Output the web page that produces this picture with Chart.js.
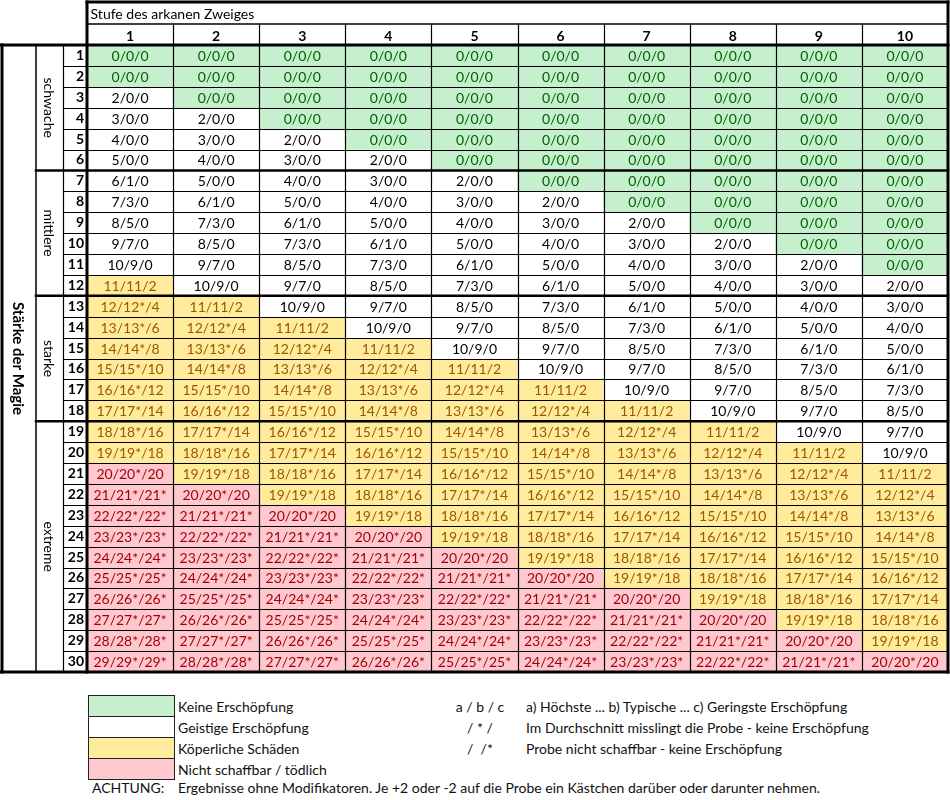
<!doctype html>
<html lang="de">
<head>
<meta charset="UTF-8">
<title>Stärke der Magie</title>
<script src="https://cdn.jsdelivr.net/npm/chart.js"></script>
<style>
  body { margin: 0; background: #fff; font-family: Lato, "Open Sans", sans-serif; }
  #wrap { position: relative; width: 950px; height: 800px; }
  #chart { position: absolute; left: 0; top: 0; }
  .box { position: absolute; left: 88px; width: 87px; height: 22px; box-sizing: border-box; border: 1px solid #222; }
  .txt { position: absolute; font-size: 14px; line-height: 21px; color: #111; white-space: pre; }
</style>
</head>
<body>
<div id="wrap">
  <canvas id="chart" width="950" height="676"></canvas>
  <div id="legend"></div>
</div>
<script>
const colLabels = ['1', '2', '3', '4', '5', '6', '7', '8', '9', '10'];
const rowLabels = ['1', '2', '3', '4', '5', '6', '7', '8', '9', '10',
                   '11', '12', '13', '14', '15', '16', '17', '18', '19', '20',
                   '21', '22', '23', '24', '25', '26', '27', '28', '29', '30'];
const groupLabels = ['schwache', 'mittlere', 'starke', 'extreme'];
const groupLastRow = [6, 12, 18, 30];

// one string per row, 10 cells each
const cellRows = [
  '0/0/0 0/0/0 0/0/0 0/0/0 0/0/0 0/0/0 0/0/0 0/0/0 0/0/0 0/0/0',
  '0/0/0 0/0/0 0/0/0 0/0/0 0/0/0 0/0/0 0/0/0 0/0/0 0/0/0 0/0/0',
  '2/0/0 0/0/0 0/0/0 0/0/0 0/0/0 0/0/0 0/0/0 0/0/0 0/0/0 0/0/0',
  '3/0/0 2/0/0 0/0/0 0/0/0 0/0/0 0/0/0 0/0/0 0/0/0 0/0/0 0/0/0',
  '4/0/0 3/0/0 2/0/0 0/0/0 0/0/0 0/0/0 0/0/0 0/0/0 0/0/0 0/0/0',
  '5/0/0 4/0/0 3/0/0 2/0/0 0/0/0 0/0/0 0/0/0 0/0/0 0/0/0 0/0/0',
  '6/1/0 5/0/0 4/0/0 3/0/0 2/0/0 0/0/0 0/0/0 0/0/0 0/0/0 0/0/0',
  '7/3/0 6/1/0 5/0/0 4/0/0 3/0/0 2/0/0 0/0/0 0/0/0 0/0/0 0/0/0',
  '8/5/0 7/3/0 6/1/0 5/0/0 4/0/0 3/0/0 2/0/0 0/0/0 0/0/0 0/0/0',
  '9/7/0 8/5/0 7/3/0 6/1/0 5/0/0 4/0/0 3/0/0 2/0/0 0/0/0 0/0/0',
  '10/9/0 9/7/0 8/5/0 7/3/0 6/1/0 5/0/0 4/0/0 3/0/0 2/0/0 0/0/0',
  '11/11/2 10/9/0 9/7/0 8/5/0 7/3/0 6/1/0 5/0/0 4/0/0 3/0/0 2/0/0',
  '12/12*/4 11/11/2 10/9/0 9/7/0 8/5/0 7/3/0 6/1/0 5/0/0 4/0/0 3/0/0',
  '13/13*/6 12/12*/4 11/11/2 10/9/0 9/7/0 8/5/0 7/3/0 6/1/0 5/0/0 4/0/0',
  '14/14*/8 13/13*/6 12/12*/4 11/11/2 10/9/0 9/7/0 8/5/0 7/3/0 6/1/0 5/0/0',
  '15/15*/10 14/14*/8 13/13*/6 12/12*/4 11/11/2 10/9/0 9/7/0 8/5/0 7/3/0 6/1/0',
  '16/16*/12 15/15*/10 14/14*/8 13/13*/6 12/12*/4 11/11/2 10/9/0 9/7/0 8/5/0 7/3/0',
  '17/17*/14 16/16*/12 15/15*/10 14/14*/8 13/13*/6 12/12*/4 11/11/2 10/9/0 9/7/0 8/5/0',
  '18/18*/16 17/17*/14 16/16*/12 15/15*/10 14/14*/8 13/13*/6 12/12*/4 11/11/2 10/9/0 9/7/0',
  '19/19*/18 18/18*/16 17/17*/14 16/16*/12 15/15*/10 14/14*/8 13/13*/6 12/12*/4 11/11/2 10/9/0',
  '20/20*/20 19/19*/18 18/18*/16 17/17*/14 16/16*/12 15/15*/10 14/14*/8 13/13*/6 12/12*/4 11/11/2',
  '21/21*/21* 20/20*/20 19/19*/18 18/18*/16 17/17*/14 16/16*/12 15/15*/10 14/14*/8 13/13*/6 12/12*/4',
  '22/22*/22* 21/21*/21* 20/20*/20 19/19*/18 18/18*/16 17/17*/14 16/16*/12 15/15*/10 14/14*/8 13/13*/6',
  '23/23*/23* 22/22*/22* 21/21*/21* 20/20*/20 19/19*/18 18/18*/16 17/17*/14 16/16*/12 15/15*/10 14/14*/8',
  '24/24*/24* 23/23*/23* 22/22*/22* 21/21*/21* 20/20*/20 19/19*/18 18/18*/16 17/17*/14 16/16*/12 15/15*/10',
  '25/25*/25* 24/24*/24* 23/23*/23* 22/22*/22* 21/21*/21* 20/20*/20 19/19*/18 18/18*/16 17/17*/14 16/16*/12',
  '26/26*/26* 25/25*/25* 24/24*/24* 23/23*/23* 22/22*/22* 21/21*/21* 20/20*/20 19/19*/18 18/18*/16 17/17*/14',
  '27/27*/27* 26/26*/26* 25/25*/25* 24/24*/24* 23/23*/23* 22/22*/22* 21/21*/21* 20/20*/20 19/19*/18 18/18*/16',
  '28/28*/28* 27/27*/27* 26/26*/26* 25/25*/25* 24/24*/24* 23/23*/23* 22/22*/22* 21/21*/21* 20/20*/20 19/19*/18',
  '29/29*/29* 28/28*/28* 27/27*/27* 26/26*/26* 25/25*/25* 24/24*/24* 23/23*/23* 22/22*/22* 21/21*/21* 20/20*/20'
];

const legendLabels = ['Keine Erschöpfung', 'Geistige Erschöpfung', 'Köperliche Schäden', 'Nicht schaffbar / tödlich'];
const noteKeys = ['a / b / c', '/ * /', '/  /*'];
const noteTexts = ['a) Höchste ... b) Typische ... c) Geringste Erschöpfung',
                   'Im Durchschnitt misslingt die Probe - keine Erschöpfung',
                   'Probe nicht schaffbar - keine Erschöpfung'];
const warnLabel = 'ACHTUNG:';
const warnText = 'Ergebnisse ohne Modifikatoren. Je +2 oder -2 auf die Probe ein Kästchen darüber oder darunter nehmen.';

const FONT = 'Lato';
const styles = [
  { bg: '#C6EFCE', fg: '#006100' },   // keine
  { bg: '#FFFFFF', fg: '#000000' },   // geistig
  { bg: '#FFEB9C', fg: '#9C5700' },   // koerperlich
  { bg: '#FFC7CE', fg: '#9C0006' }    // nicht schaffbar
];

const cells = cellRows.map(s => s.split(' '));

function cellStyle(t) {
  const a = parseInt(t, 10);
  if (a === 0) return styles[0];
  if (a <= 10) return styles[1];
  if (a <= 19) return styles[2];
  return styles[3];
}

const datasets = cells.map((row, i) => ({
  label: rowLabels[i],
  data: row.map(() => [i + 0.5, i + 1.5]),
  backgroundColor: row.map(t => cellStyle(t).bg),
  borderWidth: 0,
  barPercentage: 1,
  categoryPercentage: 1,
  grouped: false
}));

const tablePlugin = {
  id: 'table',
  afterDatasetsDraw(chart) {
    const { ctx, scales: { x, y }, chartArea: a } = chart;
    const colW = x.getPixelForValue(1) - x.getPixelForValue(0);
    const rowEdge = k => y.getPixelForValue(k + 0.5);
    ctx.save();

    // cell texts
    ctx.font = '14px ' + FONT;
    ctx.textAlign = 'center';
    ctx.textBaseline = 'middle';
    cells.forEach((row, i) => row.forEach((t, j) => {
      ctx.fillStyle = cellStyle(t).fg;
      ctx.fillText(t, x.getPixelForValue(j), y.getPixelForValue(i + 1) + 1);
    }));

    const line = (x1, y1, x2, y2, w) => {
      ctx.beginPath();
      ctx.lineWidth = w;
      ctx.strokeStyle = '#000';
      ctx.lineCap = w > 2 ? 'square' : 'butt';
      ctx.moveTo(x1, y1);
      ctx.lineTo(x2, y2);
      ctx.stroke();
    };

    const top = a.top, bottom = a.bottom;
    // row lines
    for (let k = 1; k < rowLabels.length; k++) {
      if (groupLastRow.includes(k)) line(36, rowEdge(k), a.right, rowEdge(k), 2.5);
      else line(63, Math.round(rowEdge(k)) + 0.5, a.right, Math.round(rowEdge(k)) + 0.5, 1.2);
    }
    // column lines
    for (let j = 1; j < colLabels.length; j++) {
      const px = Math.round(a.left + j * colW) + 0.5;
      line(px, 24, px, bottom, 1.2);
    }
    line(63.5, top, 63.5, bottom, 1.2);
    line(36, top, 36, bottom, 1.5);
    line(87, 24, a.right, 24, 1.5);
    // thick frame
    line(0, top, a.right, top, 3);
    line(0, bottom, a.right, bottom, 3);
    line(2, top, 2, bottom, 3);
    line(a.left, 2, a.left, bottom, 3);
    line(a.right, 2, a.right, bottom, 3);
    line(a.left, 2, a.right, 2, 3);

    // rotated group labels
    ctx.fillStyle = '#000';
    let start = 0;
    groupLabels.forEach((g, i) => {
      const cy = (rowEdge(start) + rowEdge(groupLastRow[i])) / 2;
      ctx.save();
      ctx.translate(49, cy);
      ctx.rotate(Math.PI / 2);
      ctx.font = '14px ' + FONT;
      ctx.fillText(g, 0, 0);
      ctx.restore();
      start = groupLastRow[i];
    });
    ctx.save();
    ctx.translate(18, (top + bottom) / 2);
    ctx.rotate(Math.PI / 2);
    ctx.font = 'bold 15px ' + FONT;
    ctx.fillText('Stärke der Magie', 0, 0);
    ctx.restore();

    ctx.restore();
  }
};

new Chart(document.getElementById('chart'), {
  type: 'bar',
  data: { labels: colLabels, datasets: datasets },
  options: {
    responsive: false,
    animation: false,
    layout: { padding: { left: 0, top: 2, right: 2, bottom: 4 } },
    plugins: { legend: { display: false }, tooltip: { enabled: false } },
    scales: {
      x: {
        position: 'top',
        grid: { display: false, drawTicks: false },
        border: { display: false },
        ticks: { color: '#000', font: { family: FONT, size: 14, weight: 'bold' }, padding: 0, maxRotation: 0, autoSkip: false },
        title: { display: true, text: ' Stufe des arkanen Zweiges', align: 'start', color: '#000',
                 font: { family: FONT, size: 14 }, padding: { top: 4, bottom: 0 } },
        afterFit(s) { s.height = 43; s.paddingLeft = 0; s.paddingRight = 0; }
      },
      y: {
        reverse: true,
        min: 0.5,
        max: 30.5,
        afterBuildTicks(s) { s.ticks = rowLabels.map((l, i) => ({ value: i + 1 })); },
        grid: { display: false, drawTicks: false },
        border: { display: false },
        ticks: { callback: v => rowLabels[v - 1], color: '#000', font: { family: FONT, size: 14, weight: 'bold' }, padding: 3, autoSkip: false },
        afterFit(s) { s.width = 87; s.paddingTop = 0; s.paddingBottom = 0; }
      }
    }
  },
  plugins: [tablePlugin]
});

// legend below the table
const legend = document.getElementById('legend');
const boxTops = [695, 716, 737, 758];
legendLabels.forEach((l, i) => {
  const b = document.createElement('div');
  b.className = 'box';
  b.style.top = boxTops[i] + 'px';
  b.style.background = styles[i].bg;
  legend.appendChild(b);
  const t = document.createElement('div');
  t.className = 'txt';
  t.style.left = '178px';
  t.style.top = (boxTops[i] + 1) + 'px';
  t.textContent = l;
  legend.appendChild(t);
});
noteKeys.forEach((k, i) => {
  const kd = document.createElement('div');
  kd.className = 'txt';
  kd.style.left = '450px';
  kd.style.width = '60px';
  kd.style.textAlign = 'center';
  kd.style.top = (boxTops[i] + 1) + 'px';
  kd.textContent = k;
  legend.appendChild(kd);
  const td = document.createElement('div');
  td.className = 'txt';
  td.style.left = '526px';
  td.style.top = (boxTops[i] + 1) + 'px';
  td.textContent = noteTexts[i];
  legend.appendChild(td);
});
const w1 = document.createElement('div');
w1.className = 'txt';
w1.style.left = '92px';
w1.style.top = '777px';
w1.textContent = warnLabel;
legend.appendChild(w1);
const w2 = document.createElement('div');
w2.className = 'txt';
w2.style.left = '178px';
w2.style.top = '777px';
w2.textContent = warnText;
legend.appendChild(w2);
</script>
</body>
</html>
